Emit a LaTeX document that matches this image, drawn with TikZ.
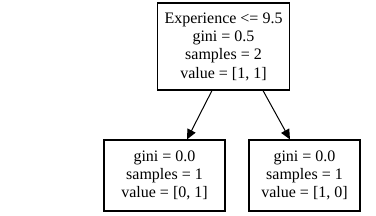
\documentclass[tikz,border=0pt]{standalone}
\usepackage{fontspec}
\setmainfont{Liberation Serif}
\usetikzlibrary{arrows.meta}
\begin{document}
\begin{tikzpicture}[x=1pt,y=1pt,
  box/.style={draw, line width=1.1pt, align=center, inner sep=0pt,
    font=\fontsize{16}{18.3}\selectfont},
  edge/.style={-{Triangle[length=10pt,width=9pt]}, line width=1pt}]
\useasboundingbox (0,0) rectangle (376,216);
\node[box, minimum width=132, minimum height=87] (root) at (223.5,169.5)
  {Experience <= 9.5\\gini = 0.5\\samples = 2\\value = [1, 1]};
\node[box, minimum width=121, minimum height=71] (l) at (164.5,40.5)
  {gini = 0.0\\samples = 1\\value = [0, 1]};
\node[box, minimum width=111, minimum height=71] (r) at (304.5,40.5)
  {gini = 0.0\\samples = 1\\value = [1, 0]};
\draw[edge] ([xshift=-11.5pt]root.south) -- ([xshift=22.5pt]l.north);
\draw[edge] ([xshift=39.5pt]root.south) -- ([xshift=-14.5pt]r.north);
\end{tikzpicture}
\end{document}
